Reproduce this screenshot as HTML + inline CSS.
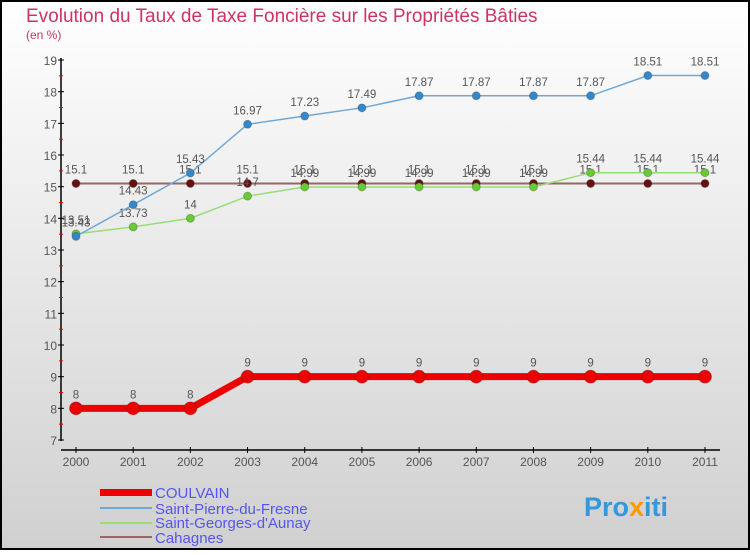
<!DOCTYPE html>
<html><head><meta charset="utf-8"><style>
body{margin:0;}
#wrap{width:750px;height:550px;position:relative;font-family:"Liberation Sans",sans-serif;}
</style></head><body>
<div id="wrap">
<svg id="svg" width="750" height="550" xmlns="http://www.w3.org/2000/svg">
<defs><linearGradient id="bg" x1="0" y1="0" x2="0" y2="1"><stop offset="0" stop-color="#ffffff"/><stop offset="1" stop-color="#d0d0d0"/></linearGradient></defs>
<rect x="1" y="1" width="748" height="548" fill="url(#bg)" stroke="#000" stroke-width="2"/>
<text x="26" y="22" font-size="19" fill="#cc3366">Evolution du Taux de Taxe Foncière sur les Propriétés Bâties</text>
<text x="26" y="39" font-size="12" fill="#cc3366">(en %)</text>
<g id="axes"></g><g id="series"></g>
<g>
<rect x="100" y="489" width="52" height="7" fill="#ee0000"/>
<text x="155" y="498" font-size="15" fill="#5555ee">COULVAIN</text>
<rect x="100" y="507" width="52" height="2" fill="#6fa8d6"/>
<text x="155" y="514" font-size="15" fill="#5555ee">Saint-Pierre-du-Fresne</text>
<rect x="100" y="522" width="52" height="2" fill="#99dd77"/>
<text x="155" y="528" font-size="15" fill="#5555ee">Saint-Georges-d'Aunay</text>
<rect x="100" y="536" width="52" height="2" fill="#996666"/>
<text x="155" y="543" font-size="15" fill="#5555ee">Cahagnes</text>
</g>
<text x="584" y="516" font-size="27" font-weight="bold" fill="#3399dd">Pro<tspan fill="#ff9900">x</tspan>iti</text>
</svg>
</div>
<script>
const years=[2000,2001,2002,2003,2004,2005,2006,2007,2008,2009,2010,2011];
const yTicks=[7,8,9,10,11,12,13,14,15,16,17,18,19];
const coulvain=[8,8,8,9,9,9,9,9,9,9,9,9];
const saintPierre=[13.43,14.43,15.43,16.97,17.23,17.49,17.87,17.87,17.87,17.87,18.51,18.51];
const saintGeorges=[13.51,13.73,14,14.7,14.99,14.99,14.99,14.99,14.99,15.44,15.44,15.44];
const cahagnes=[15.1,15.1,15.1,15.1,15.1,15.1,15.1,15.1,15.1,15.1,15.1,15.1];
const NS="http://www.w3.org/2000/svg";
const X=i=>76+i*(705-76)/(years.length-1);
const Y=v=>440-(v-7)*(380/12);
function mk(tag,attrs,parent){const e=document.createElementNS(NS,tag);for(const k in attrs)e.setAttribute(k,attrs[k]);parent.appendChild(e);return e;}
const ax=document.getElementById('axes');
let l=mk('line',{x1:61,y1:58,x2:61,y2:441,stroke:'#000','stroke-width':1.5},ax);


yTicks.forEach(v=>{
 mk('line',{x1:58,x2:64,y1:Y(v),y2:Y(v),stroke:'#000'},ax);
 if(v<19)mk('line',{x1:59,x2:63,y1:Y(v+0.5),y2:Y(v+0.5),stroke:'#e00'},ax);
 const t=mk('text',{x:57,y:Y(v)+5,'text-anchor':'end','font-size':12,fill:'#555'},ax);t.textContent=v;
 
 
});
l=mk('line',{x1:61,y1:450,x2:720,y2:450,stroke:'#000','stroke-width':1.5},ax);


years.forEach((yr,i)=>{
 mk('line',{x1:X(i),x2:X(i),y1:447,y2:453,stroke:'#000'},ax);
 const t=mk('text',{x:X(i),y:466,'text-anchor':'middle','font-size':12,fill:'#555'},ax);t.textContent=yr;
 
 
});
const sg=document.getElementById('series');
function draw(vals,color,pt,w,r,name){
 const g=mk('g',{},sg);
 
 
 const p=mk('polyline',{points:vals.map((v,i)=>X(i)+','+Y(v)).join(' '),fill:'none',stroke:color,'stroke-width':w},g);
 
 
 vals.forEach((v,i)=>{
  const c=mk('circle',{cx:X(i),cy:Y(v),r:r,fill:pt,stroke:'#333','stroke-opacity':0.3},g);
  
  
  const t=mk('text',{x:X(i),y:Y(v)-10,'text-anchor':'middle','font-size':11.5,fill:'#555'},g);t.textContent=v;
  
  
 });
}
draw(cahagnes,'#996666','#661111',2,4,'cahagnes');
draw(saintGeorges,'#99dd77','#66cc33',1.5,4,'saint-georges');
draw(saintPierre,'#6fa8d6','#3388cc',1.5,4,'saint-pierre');
draw(coulvain,'#ee0000','#ee0000',7,6.5,'coulvain');
</script>
</body></html>
